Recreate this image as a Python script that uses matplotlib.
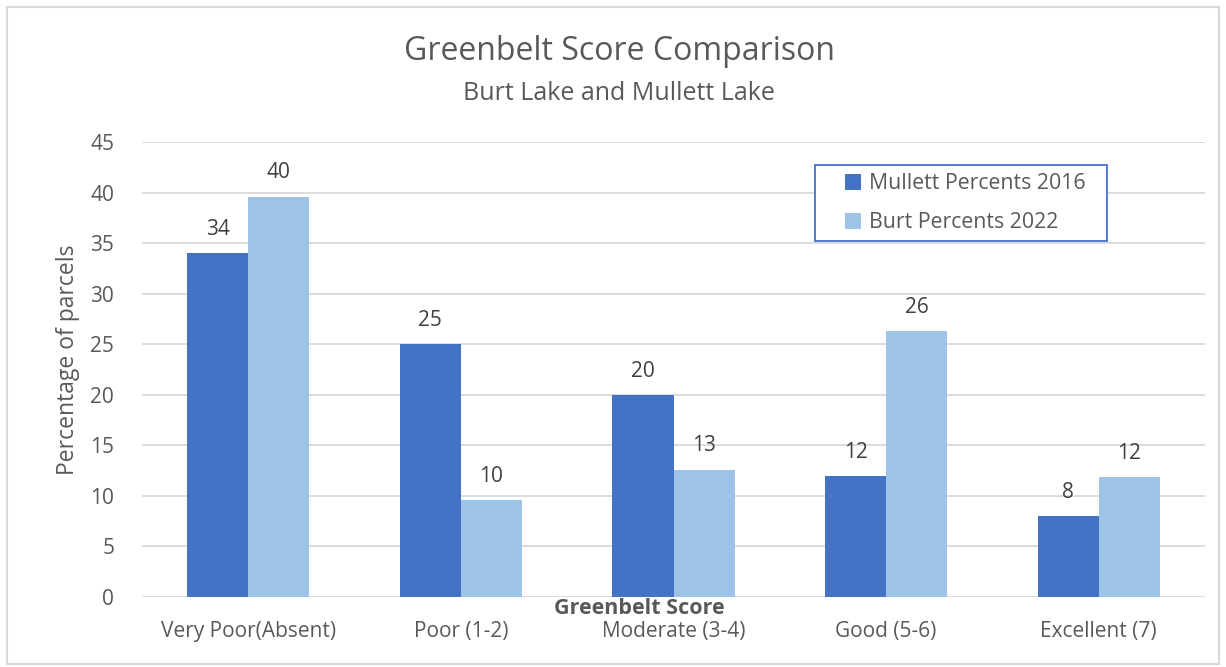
import matplotlib.pyplot as plt
import numpy as np
from matplotlib.patches import Rectangle

plt.rcParams['font.family'] = ['Open Sans', 'DejaVu Sans']

categories = ['Very Poor(Absent)', 'Poor (1-2)', 'Moderate (3-4)', 'Good (5-6)', 'Excellent (7)']
mullett_2016 = [34, 25, 20, 12, 8]
burt_2022 = [39.6, 9.6, 12.6, 26.3, 11.9]
series_names = ['Mullett Percents 2016', 'Burt Percents 2022']

txt = '#595959'
dark = '#4472C4'
light = '#9DC3E6'
W, H = 1226, 667

fig = plt.figure(figsize=(W/100, H/100), dpi=100)
fig.patches.append(Rectangle((0.006, 0.005), 0.988, 0.985, transform=fig.transFigure,
                             fill=False, edgecolor='#D9D9D9', linewidth=1.5))
ax = fig.add_axes([142/W, 1 - 597/H, 1063/W, 455/H])

x = np.arange(len(categories))
w = 0.287
b1 = ax.bar(x - w/2, mullett_2016, w, color=dark, label=series_names[0], zorder=3)
b2 = ax.bar(x + w/2, burt_2022, w, color=light, label=series_names[1], zorder=3)

for bars, vals in ((b1, mullett_2016), (b2, burt_2022)):
    for r, v in zip(bars, vals):
        ax.text(r.get_x() + r.get_width()/2, v + 1.3, f'{v:.0f}', ha='center', va='bottom',
                fontsize=15, color='#404040')

ax.set_xlim(-0.5, len(categories) - 0.5)
ax.set_ylim(0, 45)
ax.set_yticks(range(0, 46, 5))
ax.yaxis.grid(True, color='#D9D9D9', linewidth=1.3, zorder=0)
ax.set_axisbelow(True)
for s in ax.spines.values():
    s.set_visible(False)
ax.tick_params(length=0, labelsize=15, labelcolor=txt)
ax.tick_params(axis='y', pad=20)
ax.tick_params(axis='x', pad=17)
ax.set_xticks(x)
ax.set_xticklabels(categories)

ax.set_ylabel('Percentage of parcels', fontsize=16.5, color=txt)
ax.yaxis.set_label_coords((80 - 142)/1063, (597 - 360)/455)
ax.text(0.468, -0.003, 'Greenbelt Score', transform=ax.transAxes, ha='center', va='top',
        fontsize=15.5, fontweight='bold', color=txt)

fig.text(0.505, 1 - 52/H, 'Greenbelt Score Comparison', ha='center', va='center',
         fontsize=23, color=txt)
fig.text(0.505, 1 - 93/H, 'Burt Lake and Mullett Lake', ha='center', va='center',
         fontsize=18, color=txt)

# legend box drawn separately so the side padding can be wider than the top padding
fig.patches.append(Rectangle((815/W, 1 - 241/H), 292/W, 76/H, transform=fig.transFigure,
                             fill=True, facecolor='white', edgecolor=dark, linewidth=1.3,
                             zorder=4))
leg = fig.legend(handles=[b1, b2], loc='upper left', bbox_to_anchor=(840/W, 1 - 168/H),
                 fontsize=15.3, frameon=False, handlelength=0.75, handleheight=0.75,
                 handletextpad=0.35, borderpad=0.25, labelspacing=0.85, borderaxespad=0)
leg.set_zorder(5)
for t in leg.get_texts():
    t.set_color(txt)

fig.savefig('out.png', dpi=100)
